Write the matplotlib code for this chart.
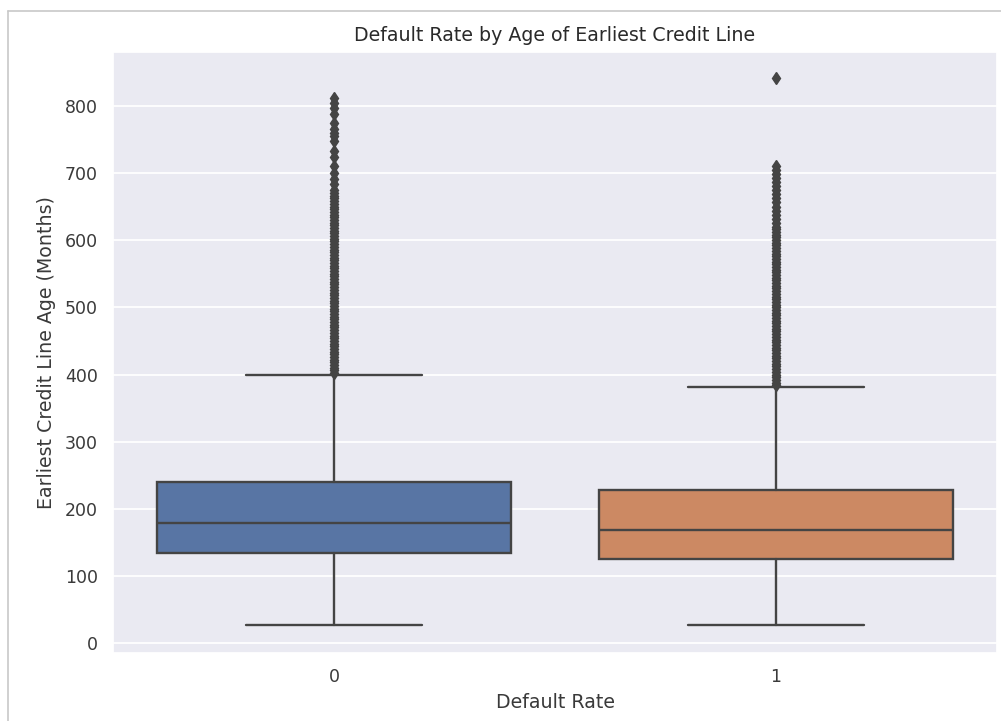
import matplotlib
matplotlib.use("Agg")
import matplotlib.pyplot as plt
import seaborn as sns
from matplotlib.lines import Line2D

# box statistics (months)
categories = ["0", "1"]
q1_vals = [134, 126]
median_vals = [179, 168]
q3_vals = [240, 228]
whisker_low = [27, 27]
whisker_high = [400, 382]

# outliers above the upper whisker
fliers_0 = [
    402, 406, 410, 414, 418, 422, 426, 430, 434, 438, 442, 446, 450, 454,
    458, 462, 466, 470, 474, 478, 482, 486, 490, 494, 498, 502, 506, 510,
    514, 518, 522, 526, 530, 534, 538, 542, 546, 550, 554, 558, 562, 566,
    570, 574, 578, 582, 586, 590, 594, 598, 602, 606, 610, 614, 618, 622,
    626, 630, 634, 638, 642, 646, 650, 654, 658, 662, 666, 670, 674,
    684, 691, 700, 711, 723, 733, 748, 755, 760, 766, 775, 788, 796, 804, 812,
]
fliers_1 = [
    384, 388, 392, 396, 400, 404, 408, 412, 416, 420, 424, 428, 432, 436,
    440, 444, 448, 452, 456, 460, 464, 468, 472, 476, 480, 484, 488, 492,
    496, 500, 504, 508, 512, 516, 520, 524, 528, 532, 536, 540, 544, 548,
    552, 556, 560, 564, 568, 572, 576, 580, 584, 588, 592, 596, 600, 604,
    608, 612, 616, 620, 626, 632, 638, 644, 650, 656, 662, 668, 674, 680,
    686, 692, 698, 704, 710, 842,
]

box_colors = ["#5875a4", "#cc8963"]
line_color = "#444444"
text_color = "#3a3a3a"
lw = 1.7

sns.set_theme(style="darkgrid")

fig = plt.figure(figsize=(10.01, 7.21), dpi=100)
ax = fig.add_axes([0.1129, 0.0943, 0.996 - 0.1129, 0.9279 - 0.0943])

stats = []
for i, fl in enumerate([fliers_0, fliers_1]):
    stats.append({
        "label": categories[i],
        "q1": q1_vals[i],
        "med": median_vals[i],
        "q3": q3_vals[i],
        "whislo": whisker_low[i],
        "whishi": whisker_high[i],
        "fliers": fl,
    })

bp = ax.bxp(
    stats,
    positions=[0, 1],
    widths=0.8,
    patch_artist=True,
    boxprops=dict(edgecolor=line_color, linewidth=lw),
    medianprops=dict(color=line_color, linewidth=lw),
    whiskerprops=dict(color=line_color, linewidth=lw),
    capprops=dict(color=line_color, linewidth=lw),
    flierprops=dict(marker="d", markersize=6.5, markerfacecolor=line_color,
                    markeredgecolor=line_color, markeredgewidth=1.0,
                    linestyle="none"),
)
for patch, c in zip(bp["boxes"], box_colors):
    patch.set_facecolor(c)

ax.set_xlim(-0.5, 1.5)
ax.set_ylim(-14.5, 880)
ax.set_yticks([0, 100, 200, 300, 400, 500, 600, 700, 800])
ax.set_xticks([0, 1])
ax.set_xticklabels(categories)
ax.tick_params(labelsize=12.5, colors=text_color, pad=5)
ax.grid(axis="x", visible=False)
ax.grid(axis="y", linewidth=1.3)

ax.set_title("Default Rate by Age of Earliest Credit Line", fontsize=13.7,
             color="#2a2a2a", pad=8)
ax.set_xlabel("Default Rate", fontsize=13.7, color=text_color, labelpad=5)
ax.set_ylabel("Earliest Credit Line Age (Months)", fontsize=13.7,
              color=text_color, labelpad=6)

# screenshot frame lines
fig.add_artist(Line2D([7.5 / 1001, 7.5 / 1001], [0, 1 - 10.5 / 721],
                      color="#c8c8c8", linewidth=1.2))
fig.add_artist(Line2D([7.5 / 1001, 1], [1 - 10.5 / 721, 1 - 10.5 / 721],
                      color="#c8c8c8", linewidth=1.2))

fig.savefig("out.png", dpi=100)
